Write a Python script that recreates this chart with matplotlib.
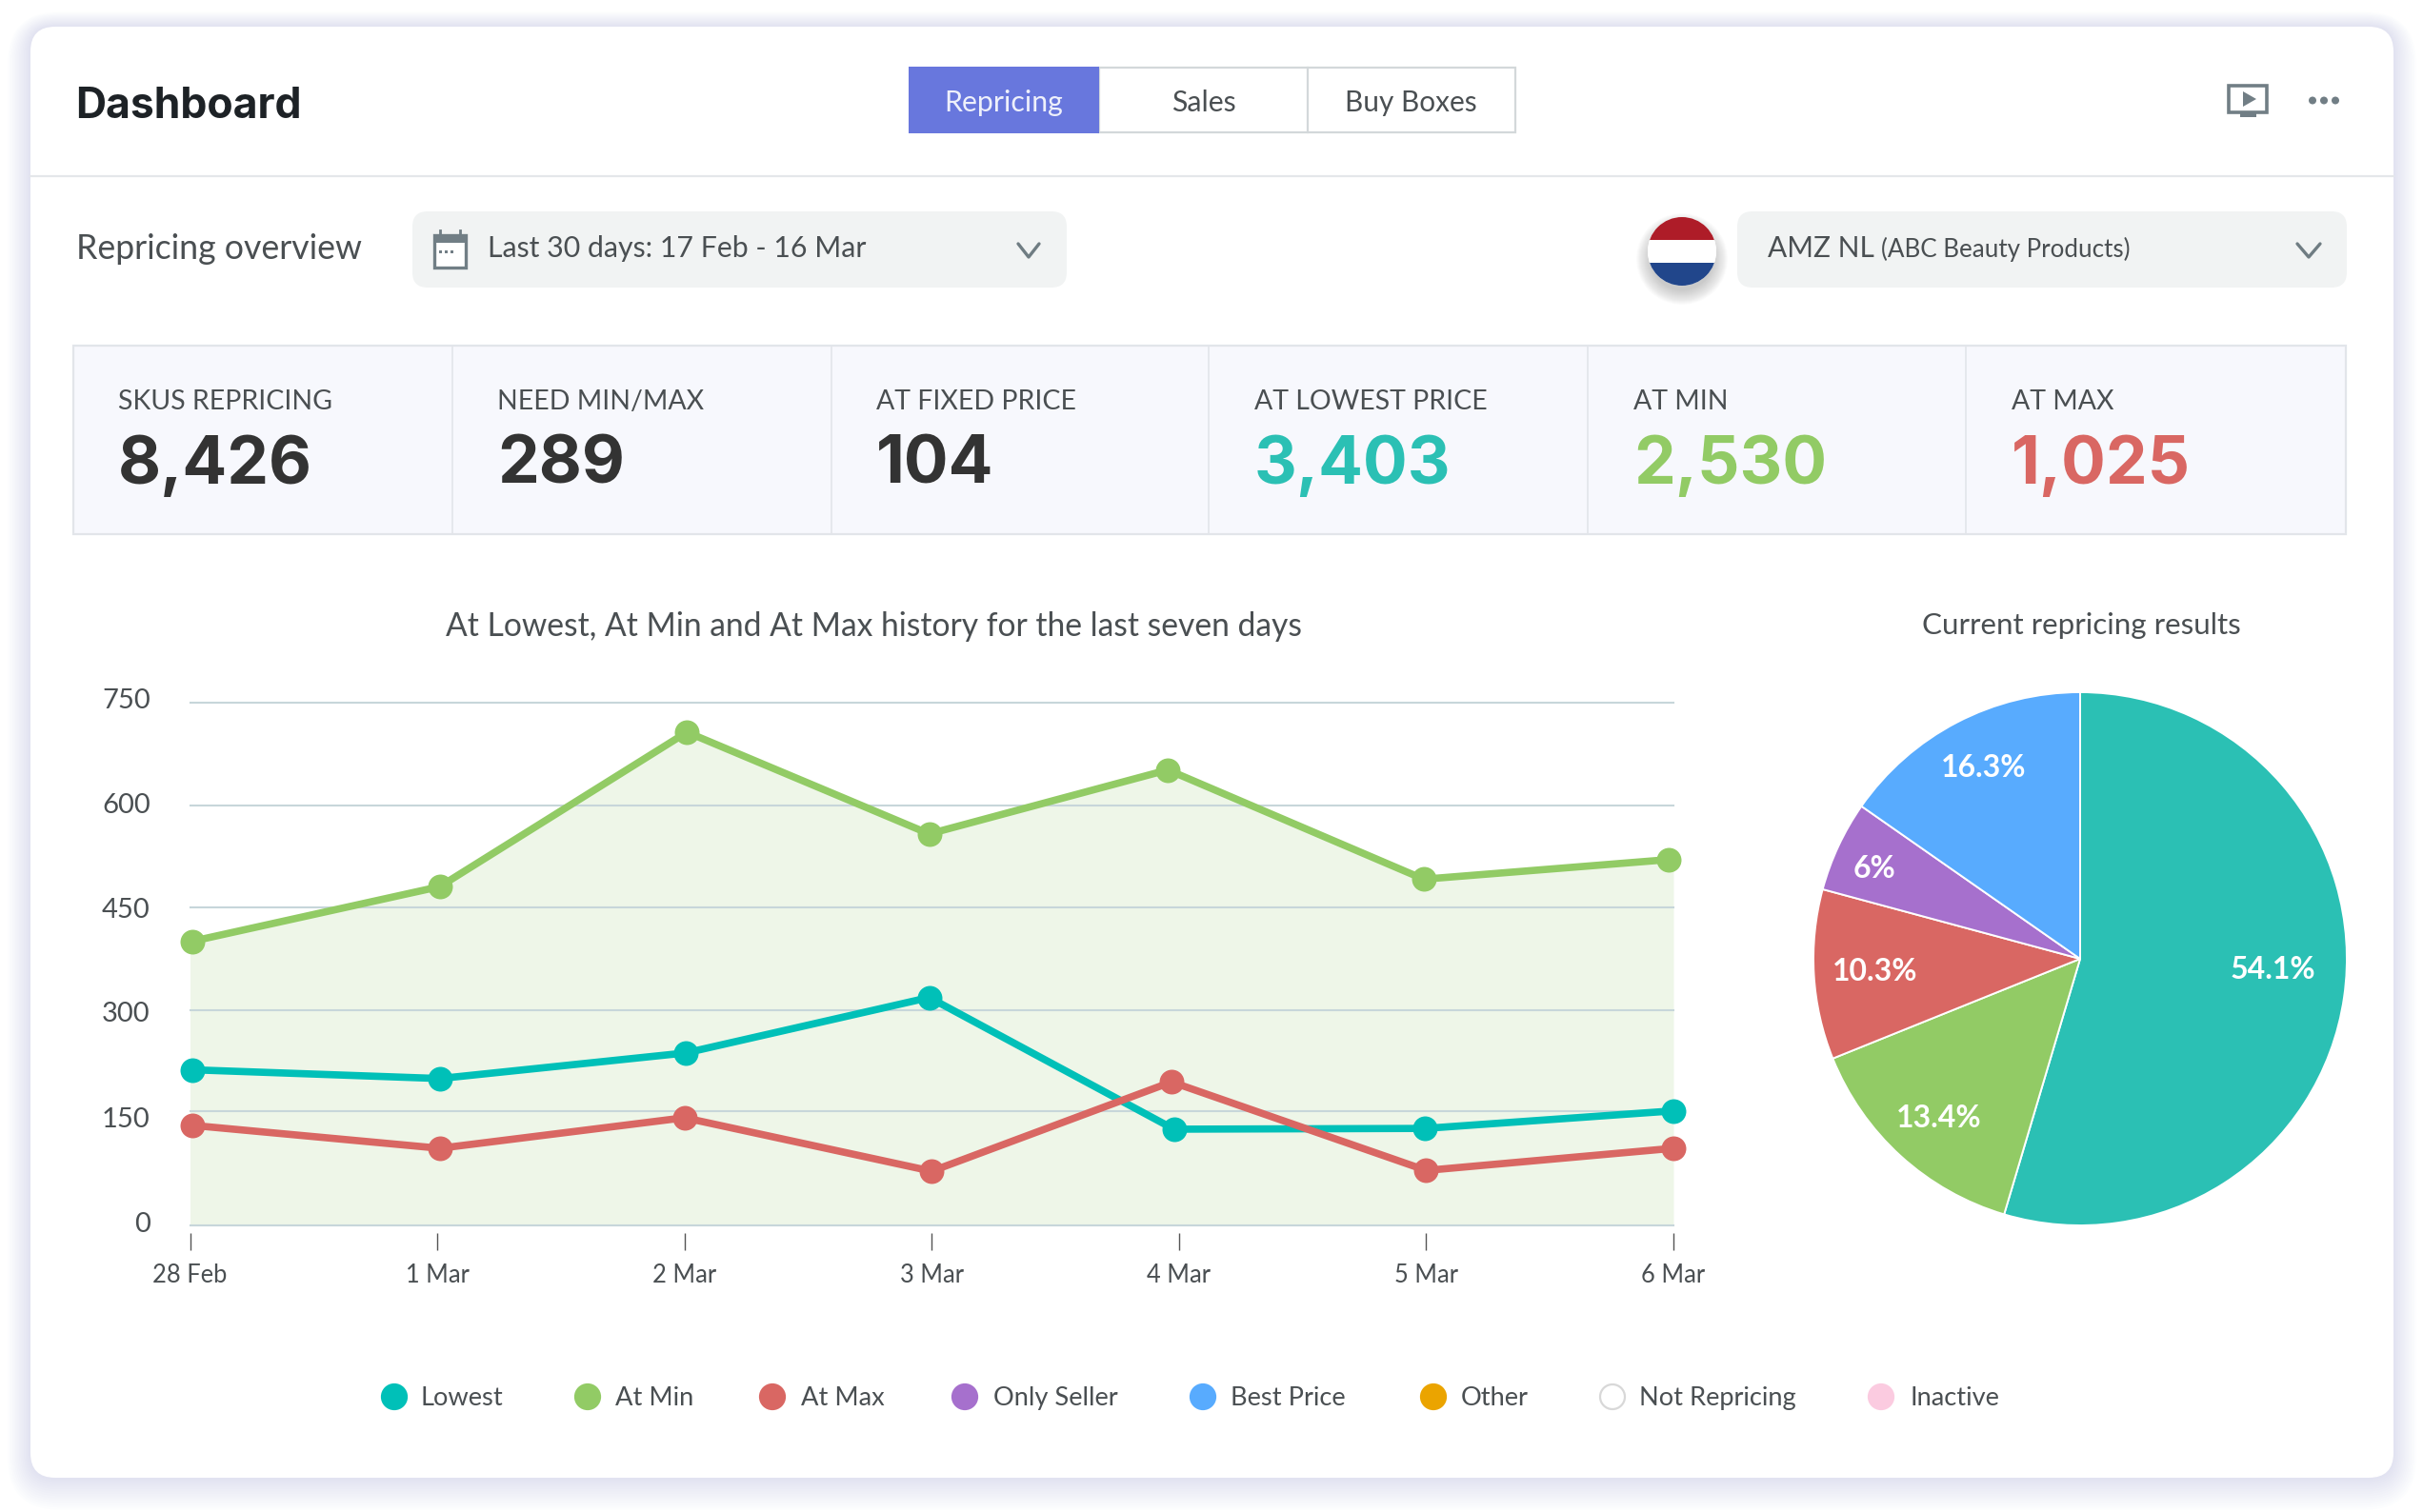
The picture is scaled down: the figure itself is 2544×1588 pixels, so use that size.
import numpy as np
import matplotlib
matplotlib.use("Agg")
import matplotlib.pyplot as plt
from matplotlib.patches import FancyBboxPatch, Rectangle, Circle, Polygon
from matplotlib.transforms import ScaledTranslation

plt.rcParams["font.family"] = ["Lato", "DejaVu Sans"]

# --- data ---
days = ["28 Feb", "1 Mar", "2 Mar", "3 Mar", "4 Mar", "5 Mar", "6 Mar"]
y_ticks = [0, 150, 300, 450, 600, 750]

lowest_x = [0.01, 1.01, 2.005, 2.99, 3.98, 4.995, 6]
lowest_y = [211, 198, 236, 318, 126, 127, 150]
at_min_x = [0.01, 1.01, 2.01, 2.99, 3.955, 4.99, 5.98]
at_min_y = [400, 480, 707, 558, 652, 491, 520]
at_max_x = [0.01, 1.01, 2, 3, 3.97, 5, 6]
at_max_y = [131, 101, 141, 71, 193, 72, 101]

# wedge shares as drawn in the picture; the printed labels differ a little
pie_values = [54.6, 14.3, 10.3, 5.5, 15.3]
pie_labels = ["54.1%", "13.4%", "10.3%", "6%", "16.3%"]

kpi_titles = ["SKUS REPRICING", "NEED MIN/MAX", "AT FIXED PRICE", "AT LOWEST PRICE", "AT MIN", "AT MAX"]
kpi_values = ["8,426", "289", "104", "3,403", "2,530", "1,025"]

legend_names = ["Lowest", "At Min", "At Max", "Only Seller", "Best Price", "Other", "Not Repricing", "Inactive"]

# --- colours ---
TEAL = "#00c0b8"
PIE_TEAL = "#2bc0b4"
GREEN = "#92cb65"
RED = "#d96763"
PURPLE = "#a670cd"
BLUE = "#58abfe"
ORANGE = "#eba400"
PINK = "#fbcbe0"
TEXT = "#4a4f52"
DARK = "#333333"
LINE = "#e4e7ea"
BOX = "#f1f3f3"

W, H = 2544, 1588
fig = plt.figure(figsize=(W / 100, H / 100), dpi=100, facecolor="white")

# page layer in pixel coordinates
bg = fig.add_axes([0, 0, 1, 1])
bg.set_xlim(0, W)
bg.set_ylim(H, 0)
bg.axis("off")


def rbox(x0, y0, x1, y1, r, **kw):
    p = FancyBboxPatch((x0 + r, y0 + r), x1 - x0 - 2 * r, y1 - y0 - 2 * r,
                       boxstyle=f"round,pad={r},rounding_size={r}", **kw)
    bg.add_patch(p)
    return p


def label(x, y, s, size, color=TEXT, weight="normal", ha="left", family=None):
    return bg.text(x, y, s, fontsize=size, color=color, fontweight=weight, ha=ha, va="baseline",
                   family=family or plt.rcParams["font.family"])


def chevron(x0, x1, y0, y1):
    bg.plot([x0, (x0 + x1) / 2, x1], [y0, y1, y0], color="#6f7c82", lw=2.4, solid_capstyle="round")


# card with its soft shadow
for grow in range(28, 0, -2):
    rbox(32 - grow * 0.85, 28 - grow * 0.55, 2513 + grow * 0.85, 1552 + grow * 1.2, 26 + grow,
         fc="#7f84cc", ec="none", alpha=0.016)
rbox(32, 28, 2513, 1552, 26, fc="white", ec="none")

# header
label(79, 124, "Dashboard", 32, color="#1d2226", weight="bold", family="Inter")
bg.plot([32, 2513], [185, 185], color=LINE, lw=1.6)

bg.add_patch(Rectangle((1154, 71), 437, 68, fc="white", ec="#d3d8da", lw=1.6))
bg.plot([1373, 1373], [71, 139], color="#d3d8da", lw=1.6)
bg.add_patch(Rectangle((954, 70), 200, 70, fc="#6877dd", ec="none"))
label(1054, 117, "Repricing", 21.8, color="#eef0fb", ha="center")
label(1264, 117, "Sales", 21.8, ha="center")
label(1481, 117, "Buy Boxes", 21.4, ha="center")

# play icon and dots
bg.add_patch(Rectangle((2340, 90), 40, 28, fc="white", ec="#717e85", lw=2.6))
bg.add_patch(Rectangle((2352, 118), 17, 5, fc="#717e85", ec="none"))
bg.add_patch(Polygon([[2355, 96], [2355, 112], [2369, 104]], fc="#717e85", ec="none"))
for cx in (2428, 2440, 2452):
    bg.add_patch(Circle((cx, 105.5), 4, fc="#717e85", ec="none"))

# filters
label(80, 272.5, "Repricing overview", 25.7)
rbox(433, 222, 1120, 302, 16, fc=BOX, ec="none")
bg.add_patch(Rectangle((456, 247), 33, 34, fc="white", ec="#717e85", lw=2.4))
bg.add_patch(Rectangle((456, 247), 33, 8, fc="#717e85", ec="none"))
for cx in (461, 467, 473):
    bg.add_patch(Rectangle((cx, 263), 3, 3, fc="#717e85", ec="none"))
for cx in (462, 483):
    bg.plot([cx, cx], [242, 249], color="#717e85", lw=2)
label(512, 270, "Last 30 days: 17 Feb - 16 Mar", 21.8)
chevron(1069, 1091, 256, 270)

for grow in range(16, 0, -1):
    bg.add_patch(Circle((1766, 272), 32 + grow, fc="#555555", ec="none", alpha=0.018))
disc = Circle((1766, 264), 36, fc="white", ec="none")
bg.add_patch(disc)
for y0, y1, col in ((228, 252, "#ae1c28"), (252, 276, "white"), (276, 300, "#21468b")):
    band = Rectangle((1730, y0), 72, y1 - y0, fc=col, ec="none")
    bg.add_patch(band)
    band.set_clip_path(disc)

rbox(1824, 222, 2464, 302, 16, fc=BOX, ec="none")
label(1856, 270, "AMZ NL", 21.5)
label(1975, 270, "(ABC Beauty Products)", 18.7)
chevron(2412, 2436, 256, 270)

# KPI strip
bg.add_patch(Rectangle((77, 363), 2386, 198, fc="#f7f8fd", ec="#e2e5ea", lw=1.6))
for x in (475, 873, 1269, 1667, 2064):
    bg.plot([x, x], [363, 561], color="#e2e5ea", lw=1.2)
kpi_x = [124, 522, 920, 1317, 1715, 2112]
kpi_colors = [DARK, DARK, DARK, PIE_TEAL, GREEN, RED]
for x, title, value, col in zip(kpi_x, kpi_titles, kpi_values, kpi_colors):
    label(x, 430.5, title, 20.5)
    label(x, 508, value, 50, color=col, weight="bold", family="Inter")

# line chart: the gridlines in the picture are not evenly spaced, so the
# y axis goes through their measured heights
left, right, top, bottom = 199.5, 1757, 738, 1287
grid_heights = [0, 120.3, 226.4, 334.5, 441, 549]


def y_forward(v):
    return np.interp(v, y_ticks, grid_heights)


def y_inverse(v):
    return np.interp(v, grid_heights, y_ticks)


ax = fig.add_axes([left / W, 1 - bottom / H, (right - left) / W, (bottom - top) / H])
ax.patch.set_alpha(0)
ax.set_xlim(0, 6)
ax.set_yscale("function", functions=(y_forward, y_inverse))
ax.set_ylim(0, 750)
ax.fill_between([0] + at_min_x[1:-1] + [6], at_min_y, 0, color="#eef6e8", lw=0, zorder=1)
ax.set_axisbelow(False)
ax.grid(True, axis="y", color="#c7d6da", lw=1.5, zorder=2)
for x, y, col in ((lowest_x, lowest_y, TEAL), (at_min_x, at_min_y, GREEN), (at_max_x, at_max_y, RED)):
    ax.plot(x, y, color=col, lw=5.5, marker="o", ms=18.7, mew=0, clip_on=False, zorder=3)
for name in ("top", "right", "left"):
    ax.spines[name].set_visible(False)
ax.spines["bottom"].set_position(("outward", 5.8))
ax.spines["bottom"].set_visible(False)
ax.set_xticks(range(len(days)), days)
ax.set_yticks(y_ticks, [str(t) for t in y_ticks])
ax.minorticks_off()
ax.tick_params(axis="x", length=13, width=1, color="#555555", pad=10, labelsize=18.4, labelcolor=TEXT)
ax.tick_params(axis="y", length=0, pad=30, labelsize=21, labelcolor=TEXT)
for gl in ax.get_ygridlines():
    gl.set_clip_on(False)
# the y labels sit evenly spaced while the gridlines do not, pixels up from each gridline
for tl, up in zip(ax.get_yticklabels(), [3.7, -6.3, -2, -1.5, 2.4, 4.7]):
    tl.set_transform(tl.get_transform() + ScaledTranslation(0, up / 100, fig.dpi_scale_trans))
label(917, 668, "At Lowest, At Min and At Max history for the last seven days", 24.2, ha="center")

# pie chart
cx, cy, r = 2184, 1007, 280
pax = fig.add_axes([(cx - r) / W, 1 - (cy + r) / H, 2 * r / W, 2 * r / H])
pie_colors = [PIE_TEAL, GREEN, RED, PURPLE, BLUE]
wedges, _ = pax.pie(pie_values, colors=pie_colors, startangle=90, counterclock=False, radius=1,
                    wedgeprops={"ec": "white", "lw": 1.4})
pax.set_xlim(-1, 1)
pax.set_ylim(-1, 1)
pie_text_px = [(2386, 1019), (2036, 1174), (1969, 1020), (1968, 913), (2083, 806)]
for s, (px, py) in zip(pie_labels, pie_text_px):
    pax.text((px - cx) / r, (cy - py) / r, s, color="white", fontsize=23, fontweight="bold",
             ha="center", va="center")
label(2185, 666, "Current repricing results", 22.6, ha="center")

# legend
legend_colors = [TEAL, GREEN, RED, PURPLE, BLUE, ORANGE, "white", PINK]
marker_x = [414, 617, 811, 1013, 1263, 1505, 1693, 1975]
text_x = [441, 646, 841, 1043, 1292, 1534, 1721, 2005]
for name, col, mx, tx in zip(legend_names, legend_colors, marker_x, text_x):
    edge = "#d8d8d8" if col == "white" else col
    bg.add_patch(Circle((mx, 1467), 13, fc=col, ec=edge, lw=1.6))
    label(tx, 1476, name, 19.6)

fig.savefig("out.png", dpi=100)
